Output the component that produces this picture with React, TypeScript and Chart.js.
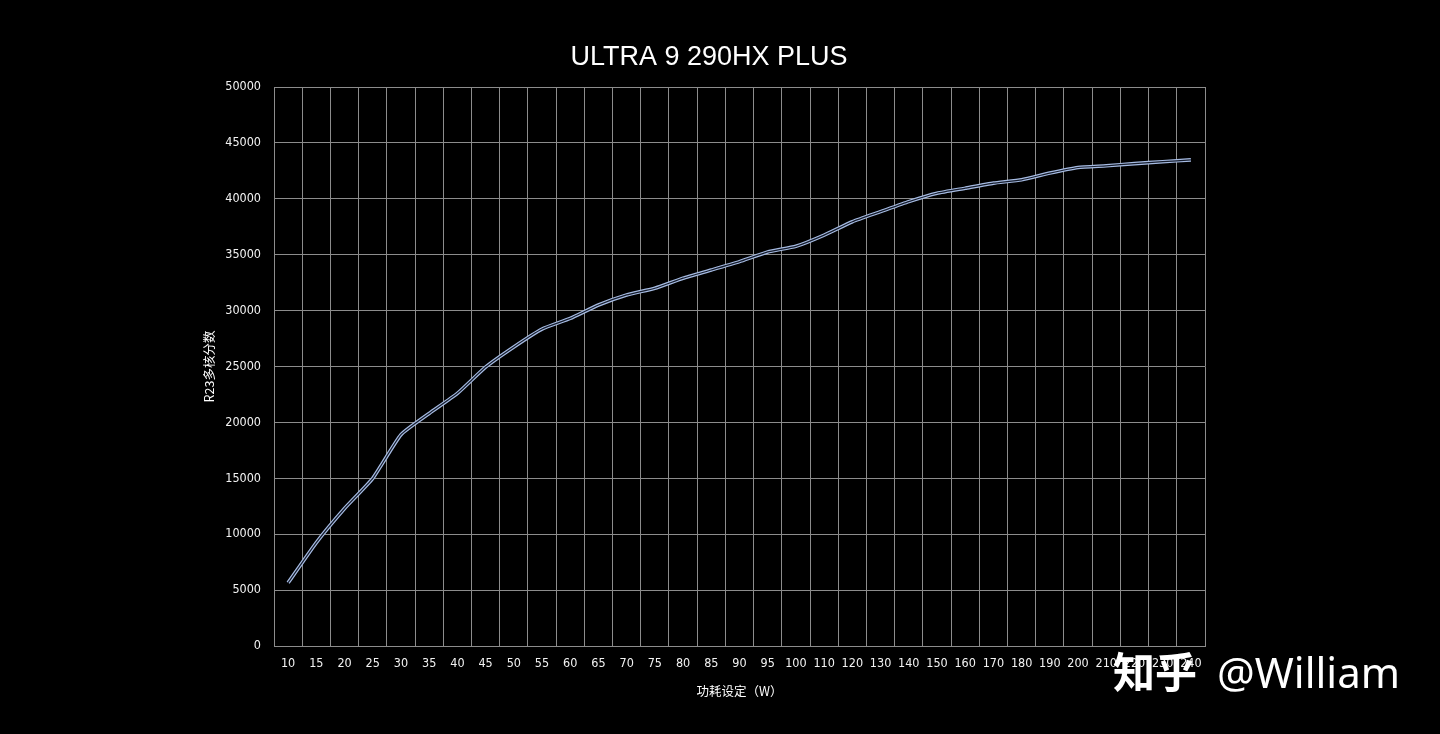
import React, { useEffect, useRef } from "react";
import { Chart, registerables } from "chart.js";

Chart.register(...registerables);

const powerLabels: string[] = [
  "10", "15", "20", "25", "30", "35", "40", "45", "50", "55",
  "60", "65", "70", "75", "80", "85", "90", "95", "100",
  "110", "120", "130", "140", "150", "160", "170", "180", "190",
  "200", "210", "220", "230", "240",
];

const r23Scores: number[] = [
  5650, 9250, 12300, 15000, 18900, 20800, 22600, 24950, 26750, 28350,
  29300, 30500, 31400, 32000, 32900, 33630, 34380, 35250, 35750,
  36750, 37950, 38850, 39750, 40500, 40950, 41400, 41700, 42300,
  42800, 42950, 43150, 43320, 43480,
];

const yMin = 0;
const yMax = 50000;
const yStep = 5000;

const chartTitle = "ULTRA 9 290HX PLUS";
const xTitle = "功耗设定（W）";
const yTitle = "R23多核分数";
const watermarkCn = "知乎";
const watermarkEn = "@William";

const tickFont = "'Liberation Sans Narrow', 'Arial Narrow', 'DejaVu Sans Condensed', sans-serif";
const cjkFont = "'Noto Sans CJK SC', 'Noto Sans', sans-serif";

export default function App() {
  const ref = useRef<HTMLCanvasElement | null>(null);

  useEffect(() => {
    document.body.style.margin = "0";
    document.body.style.background = "#000";
    const canvas = ref.current;
    if (!canvas) return;

    const overlay = {
      id: "overlayText",
      afterDraw(chart: any) {
        const ctx = chart.ctx as CanvasRenderingContext2D;
        ctx.save();
        ctx.fillStyle = "#ffffff";
        ctx.textAlign = "center";
        ctx.textBaseline = "alphabetic";
        ctx.font = "27px 'Liberation Sans', Arial, sans-serif";
        ctx.fillText(chartTitle, 709, 65);

        ctx.textAlign = "left";
        ctx.font = "bold 42px " + cjkFont;
        ctx.fillText(watermarkCn, 1113, 688);
        ctx.font = "42px 'Noto Sans', 'Open Sans', sans-serif";
        ctx.fillText(watermarkEn, 1217, 688);
        ctx.restore();
      },
    };

    const gridColor = "#8c8c8c";

    const chart = new Chart(canvas, {
      type: "line",
      data: {
        labels: powerLabels,
        datasets: [
          {
            label: "inner",
            data: r23Scores,
            borderColor: "#141b2b",
            borderWidth: 1.2,
            pointRadius: 0,
            tension: 0.15,
            fill: false,
          },
          {
            label: "outline",
            data: r23Scores,
            borderColor: "#a6bbe2",
            borderWidth: 3.6,
            pointRadius: 0,
            tension: 0.15,
            fill: false,
          },
        ],
      },
      options: {
        responsive: false,
        animation: false,
        devicePixelRatio: 1,
        layout: { padding: { left: 190, right: 235, top: 87, bottom: 0 } },
        plugins: {
          legend: { display: false },
          title: { display: false },
          tooltip: { enabled: false },
        },
        scales: {
          x: {
            type: "category",
            offset: true,
            grid: {
              display: true,
              offset: true,
              color: gridColor,
              lineWidth: 1,
              drawTicks: false,
            },
            border: { display: true, color: gridColor, width: 1 },
            ticks: {
              color: "#f2f2f2",
              padding: 10,
              autoSkip: false,
              maxRotation: 0,
              font: { family: tickFont, size: 12.5 },
            },
            title: {
              display: true,
              text: xTitle,
              color: "#ffffff",
              font: { family: cjkFont, size: 12.5 },
              padding: { top: 0, bottom: 35 },
            },
            afterFit(scale: any) {
              scale.height = 88;
            },
          },
          y: {
            min: yMin,
            max: yMax,
            grid: { color: gridColor, lineWidth: 1, drawTicks: false },
            border: { display: true, color: gridColor, width: 1 },
            ticks: {
              stepSize: yStep,
              color: "#f2f2f2",
              padding: 13,
              font: { family: tickFont, size: 12.5 },
              callback: (value: any) => String(value),
            },
            title: {
              display: true,
              text: yTitle,
              color: "#ffffff",
              font: { family: cjkFont, size: 12.5 },
              padding: { top: 12, bottom: 0 },
            },
            afterFit(scale: any) {
              scale.width = 84;
            },
          },
        },
      },
      plugins: [overlay],
    });

    return () => chart.destroy();
  }, []);

  return (
    <div style={{ width: 1440, height: 734, background: "#000" }}>
      <canvas ref={ref} width={1440} height={734} style={{ display: "block" }} />
    </div>
  );
}
